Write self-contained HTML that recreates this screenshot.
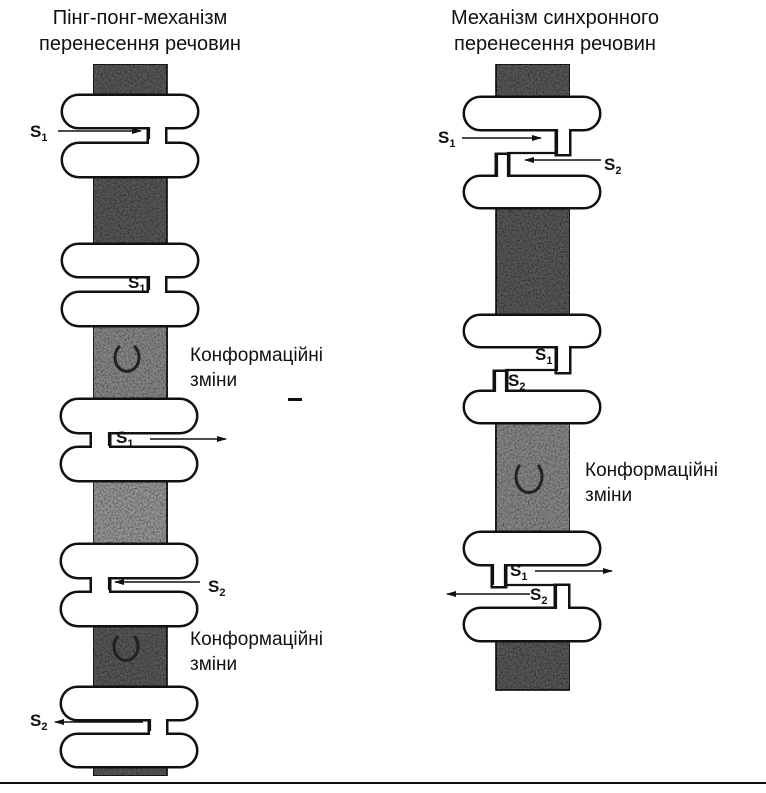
<!DOCTYPE html>
<html><head><meta charset="utf-8"><style>
html,body{margin:0;padding:0;background:#fff;width:766px;height:793px;overflow:hidden}
svg{display:block}
text{font-family:"Liberation Sans",sans-serif;fill:#111}
</style></head><body>
<svg width="766" height="793" viewBox="0 0 766 793" xmlns="http://www.w3.org/2000/svg">
<defs>
<filter id="n" x="0" y="0" width="100%" height="100%">
<feTurbulence type="fractalNoise" baseFrequency="0.6" numOctaves="2" seed="3" result="t"/>
<feColorMatrix in="t" type="matrix" values="0 0 0 0 0  0 0 0 0 0  0 0 0 0 0  0 0 0 1.6 -0.55" result="a"/>
<feComposite in="a" in2="SourceGraphic" operator="in" result="b"/>
<feMerge><feMergeNode in="SourceGraphic"/><feMergeNode in="b"/></feMerge>
</filter>
<marker id="ar" markerWidth="10" markerHeight="8" refX="9" refY="4" orient="auto" markerUnits="userSpaceOnUse"><path d="M0,1 L10,4 L0,7 Z" fill="#111"/></marker>
</defs>

<g font-size="20">
<text x="140" y="24" text-anchor="middle">Пінг-понг-механізм</text>
<text x="140" y="50" text-anchor="middle">перенесення речовин</text>
<text x="555" y="24" text-anchor="middle">Механізм синхронного</text>
<text x="555" y="50" text-anchor="middle">перенесення речовин</text>
</g>

<!-- strips -->
<g filter="url(#n)" stroke="#111" stroke-width="1.5">
<rect x="93" y="64" width="74" height="712" fill="#5a5a5a"/>
<rect x="93" y="325" width="74" height="80" fill="#8a8a8a"/>
<rect x="93" y="478" width="74" height="70" fill="#999"/>
<rect x="496" y="64" width="74" height="626" fill="#5a5a5a"/>
<rect x="496" y="422" width="74" height="112" fill="#8a8a8a"/>
</g>
<g fill="none" stroke="#222" stroke-width="3">
<path d="M120,346 a12,14 0 1,0 14,0"/>
<path d="M118,636 a12,14 0 1,0 16,0"/>
<path d="M520,465 a13,16 0 1,0 18,0"/>
</g>
<!-- white gaps between pills -->
<g fill="#fff">
<rect x="90" y="120" width="80" height="30"/>
<rect x="90" y="270" width="80" height="30"/>
<rect x="90" y="425" width="80" height="30"/>
<rect x="90" y="570" width="80" height="30"/>
<rect x="90" y="712" width="80" height="30"/>
<rect x="493" y="122" width="80" height="62"/>
<rect x="493" y="340" width="80" height="58"/>
<rect x="493" y="558" width="80" height="58"/>
</g>

<g stroke="#111" stroke-width="5" fill="#fff">
<rect x="63" y="96" width="134" height="31" rx="15.5"/><rect x="63" y="144" width="134" height="32" rx="16"/><rect x="149" y="120" width="16" height="30"/>
<rect x="63" y="245" width="134" height="31" rx="15.5"/><rect x="63" y="293" width="134" height="32" rx="16"/><rect x="149" y="270" width="16" height="30"/>
<rect x="62" y="400" width="134" height="32" rx="16"/><rect x="62" y="448" width="134" height="32" rx="16"/><rect x="92" y="425" width="17" height="30"/>
<rect x="62" y="545" width="134" height="32" rx="16"/><rect x="62" y="593" width="134" height="32" rx="16"/><rect x="92" y="570" width="17" height="30"/>
<rect x="62" y="688" width="134" height="31" rx="15.5"/><rect x="62" y="735" width="134" height="31" rx="15.5"/><rect x="150" y="712" width="16" height="30"/>
<rect x="465" y="98" width="134" height="31" rx="15.5"/><rect x="465" y="177" width="134" height="30" rx="15"/><rect x="557" y="122" width="12" height="32"/><rect x="497" y="155" width="11" height="28"/>
<rect x="465" y="316" width="134" height="30" rx="15"/><rect x="465" y="392" width="134" height="30" rx="15"/><rect x="557" y="340" width="12" height="32"/><rect x="495" y="372" width="11" height="26"/>
<rect x="465" y="533" width="134" height="31" rx="15.5"/><rect x="465" y="609" width="134" height="31" rx="15.5"/><rect x="493" y="558" width="12" height="28"/><rect x="556" y="586" width="12" height="30"/>
</g>
<g fill="#fff">
<rect x="63" y="96" width="134" height="31" rx="15.5"/><rect x="63" y="144" width="134" height="32" rx="16"/><rect x="149" y="120" width="16" height="30"/>
<rect x="63" y="245" width="134" height="31" rx="15.5"/><rect x="63" y="293" width="134" height="32" rx="16"/><rect x="149" y="270" width="16" height="30"/>
<rect x="62" y="400" width="134" height="32" rx="16"/><rect x="62" y="448" width="134" height="32" rx="16"/><rect x="92" y="425" width="17" height="30"/>
<rect x="62" y="545" width="134" height="32" rx="16"/><rect x="62" y="593" width="134" height="32" rx="16"/><rect x="92" y="570" width="17" height="30"/>
<rect x="62" y="688" width="134" height="31" rx="15.5"/><rect x="62" y="735" width="134" height="31" rx="15.5"/><rect x="150" y="712" width="16" height="30"/>
<rect x="465" y="98" width="134" height="31" rx="15.5"/><rect x="465" y="177" width="134" height="30" rx="15"/><rect x="557" y="122" width="12" height="32"/><rect x="497" y="155" width="11" height="28"/>
<rect x="465" y="316" width="134" height="30" rx="15"/><rect x="465" y="392" width="134" height="30" rx="15"/><rect x="557" y="340" width="12" height="32"/><rect x="495" y="372" width="11" height="26"/>
<rect x="465" y="533" width="134" height="31" rx="15.5"/><rect x="465" y="609" width="134" height="31" rx="15.5"/><rect x="493" y="558" width="12" height="28"/><rect x="556" y="586" width="12" height="30"/>
</g>
<!-- slot lines -->
<g stroke="#111" stroke-width="2.2" fill="none">
<path d="M149,127 V139"/>
<path d="M149,276 V290"/>
<path d="M109,432 V446"/>
<path d="M109,577 V590"/>
<path d="M150,719 V731"/>
<path d="M557,129 V153 H508 V177 M497,155 V177"/>
<path d="M557,346 V370 H506 V392 M495,372 V392"/>
<path d="M505,564 V585 H556 V609 M493,564 V585"/>
</g>

<!-- arrows -->
<g stroke="#111" stroke-width="1.6" marker-end="url(#ar)">
<line x1="58" y1="131" x2="141" y2="131"/>
<line x1="150" y1="439" x2="226" y2="439"/>
<line x1="200" y1="582" x2="115" y2="582"/>
<line x1="143" y1="722" x2="55" y2="722"/>
<line x1="462" y1="138" x2="541" y2="138"/>
<line x1="601" y1="160" x2="525" y2="160"/>
<line x1="535" y1="571" x2="612" y2="571"/>
<line x1="530" y1="594" x2="447" y2="594"/>
</g>

<!-- labels -->
<g font-size="17" font-weight="bold">
<text x="30" y="137">S<tspan font-size="11" dy="4">1</tspan></text>
<text x="128" y="288">S<tspan font-size="11" dy="4">1</tspan></text>
<text x="116" y="443">S<tspan font-size="11" dy="4">1</tspan></text>
<text x="208" y="592">S<tspan font-size="11" dy="4">2</tspan></text>
<text x="30" y="726">S<tspan font-size="11" dy="4">2</tspan></text>
<text x="438" y="143">S<tspan font-size="11" dy="4">1</tspan></text>
<text x="604" y="170">S<tspan font-size="11" dy="4">2</tspan></text>
<text x="535" y="360">S<tspan font-size="11" dy="4">1</tspan></text>
<text x="508" y="386">S<tspan font-size="11" dy="4">2</tspan></text>
<text x="510" y="576">S<tspan font-size="11" dy="4">1</tspan></text>
<text x="530" y="600">S<tspan font-size="11" dy="4">2</tspan></text>
</g>
<g font-size="19">
<text x="190" y="361">Конформаційні</text>
<text x="190" y="386">зміни</text>
<text x="190" y="645">Конформаційні</text>
<text x="190" y="670">зміни</text>
<text x="585" y="476">Конформаційні</text>
<text x="585" y="501">зміни</text>
</g>
<rect x="288" y="398" width="14" height="3" fill="#111"/>
<line x1="0" y1="783" x2="766" y2="783" stroke="#111" stroke-width="2"/>
</svg>
</body></html>
